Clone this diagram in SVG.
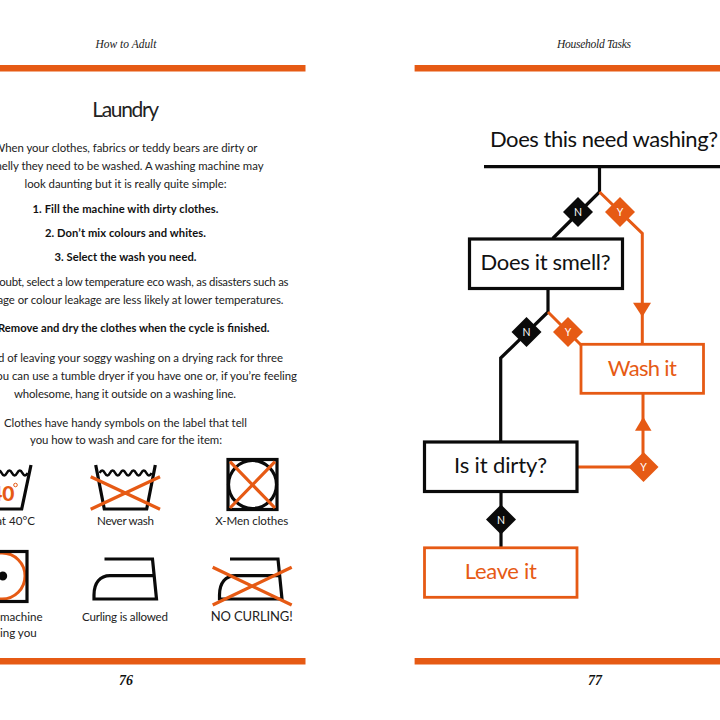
<svg xmlns="http://www.w3.org/2000/svg" width="720" height="720" viewBox="0 0 720 720">
<style>
text{font-family:"Lato","Noto Sans",sans-serif;fill:#222;text-anchor:middle}
.b{font-size:11.4px}
.bb{font-size:11.2px;font-weight:700;fill:#111}
.cap{font-size:11.6px}
.end{text-anchor:end}
.hd{font-family:"Liberation Serif",serif;font-style:italic;font-size:11.5px}
.pn{font-family:"Liberation Serif",serif;font-style:italic;font-weight:700;font-size:14px;fill:#111}
.t{font-size:22px;fill:#111}
.to{font-size:22px;fill:#e65a14}
.dl{font-size:10.5px;fill:#fff}
.bar{fill:#e65a14}
.k{fill:none;stroke:#0a0a0a;stroke-width:3.2}
.w{fill:none;stroke:#0a0a0a;stroke-width:2.6}
.o{fill:none;stroke:#e65a14;stroke-width:3}
.ob{fill:#fff;stroke:#e65a14;stroke-width:2.8}
.kb{fill:#fff;stroke:#0a0a0a;stroke-width:3.2}
.x{fill:none;stroke:#e65a14;stroke-width:3.2}
</style>
<rect width="720" height="720" fill="#fff"/>
<g id="page-furniture">
<rect class="bar" x="0" y="65" width="305.5" height="6.5"/>
<rect class="bar" x="414.6" y="65" width="305.4" height="6.5"/>
<rect class="bar" x="0" y="658" width="305.5" height="6.5"/>
<rect class="bar" x="414.6" y="658" width="305.4" height="6.5"/>
<text class="hd" x="126" y="48.3" textLength="61">How to Adult</text>
<text class="hd" x="594" y="48.3" textLength="74">Household Tasks</text>
<text class="pn" x="126" y="685">76</text>
<text class="pn" x="595" y="685">77</text>
</g>
<g id="laundry-text">
<text x="125.7" y="117" font-size="21" font-weight="400" textLength="67">Laundry</text>
<text class="b" x="125.5" y="152" textLength="264">When your clothes, fabrics or teddy bears are dirty or</text>
<text class="b" x="125.5" y="170" textLength="276">smelly they need to be washed. A washing machine may</text>
<text class="b" x="125.5" y="188" textLength="202">look daunting but it is really quite simple:</text>
<text class="bb" x="125.5" y="213" textLength="186">1. Fill the machine with dirty clothes.</text>
<text class="bb" x="125.5" y="237" textLength="161">2. Don’t mix colours and whites.</text>
<text class="bb" x="125.5" y="261" textLength="142">3. Select the wash you need.</text>
<text class="b" x="135" y="285.7" textLength="307">In doubt, select a low temperature eco wash, as disasters such as</text>
<text class="b" x="125.5" y="304" textLength="316">shrinkage or colour leakage are less likely at lower temperatures.</text>
<text class="bb" x="127.75" y="332.3" textLength="283.5">4. Remove and dry the clothes when the cycle is finished.</text>
<text class="b" x="125.5" y="361.7" textLength="315">Instead of leaving your soggy washing on a drying rack for three</text>
<text class="b" x="125.5" y="380" textLength="343">weeks, you can use a tumble dryer if you have one or, if you’re feeling</text>
<text class="b" x="125" y="397.7" textLength="222">wholesome, hang it outside on a washing line.</text>
<text class="b" x="125.5" y="426.7" textLength="243">Clothes have handy symbols on the label that tell</text>
<text class="b" x="126" y="444.3" textLength="192">you how to wash and care for the item:</text>
</g>
<g id="symbol-wash-40">
<path class="k" d="M31 465 L21.7 509 H-20"/>
<path class="w" d="M-24.400 473 q2.600 -5 5.200 0 t5.200 0 t5.200 0 t5.200 0 t5.200 0 t5.200 0 t5.200 0 t5.200 0 t5.200 0 t5.200 0"/>
<text x="14.5" y="501" font-size="21" font-weight="900" style="fill:#e65a14;text-anchor:end">40</text>
<circle cx="15.5" cy="485" r="1.8" fill="none" stroke="#e65a14" stroke-width="1"/>
<text class="cap end" x="35" y="525">at 40°C</text>
</g>
<g id="symbol-never-wash">
<path class="k" d="M95.7 465 L104.3 509 H146.7 L155.3 465"/>
<path class="w" d="M99.600 473 q2.600 -5 5.200 0 t5.200 0 t5.200 0 t5.200 0 t5.200 0 t5.200 0 t5.200 0 t5.200 0 t5.200 0 t5.200 0"/>
<path class="x" d="M90.7 476.7 L160 509.3 M90.7 509.3 L160 476.7"/>
<text class="cap" x="125.5" y="525" textLength="57">Never wash</text>
</g>
<g id="symbol-x-men">
<rect class="k" x="228" y="459.5" width="49" height="50"/>
<circle class="k" cx="252.5" cy="484.5" r="24"/>
<path class="x" d="M230 461.7 L275 508 M275 461.7 L230 508"/>
<text class="cap" x="251.7" y="525" textLength="73">X-Men clothes</text>
</g>
<g id="symbol-machine">
<circle class="o" cx="2" cy="576" r="23"/>
<rect class="k" x="-23" y="551.5" width="50" height="50"/>
<circle cx="2.7" cy="576" r="4.5" fill="#0a0a0a"/>
<text class="cap end" x="42.7" y="621">machine</text>
<text class="cap end" x="36.7" y="637">washing you</text>
</g>
<g id="symbol-curling">
<path class="k" d="M104.5 559 H152.5 L156.5 599 H94 V595 C94 583 100 575.7 110 575.7 H154"/>
<text class="cap" x="125" y="621" textLength="86">Curling is allowed</text>
</g>
<g id="symbol-no-curling">
<path class="k" d="M230 559 H278 L282 599 H219.5 V595 C219.5 583 225.5 575.7 235.5 575.7 H279.5"/>
<path class="x" d="M212.7 567.3 L291.7 605 M212.7 605 L291.7 567.3"/>
<text x="251.7" y="621" font-size="13" textLength="82">NO CURLING!</text>
</g>
<g id="connectors">
<path class="k" d="M484 166.7 H720"/>
<path class="k" d="M599.5 166.7 V192 L552.7 238.5"/>
<path class="o" d="M599.5 192 L642.3 233.5 V344"/>
<polygon points="633,302.7 651,302.7 642.3,317" fill="#e65a14"/>
<path class="k" d="M548 289 V312 L500.7 358 V442"/>
<path class="o" d="M548 312 L581 345"/>
<path class="o" d="M643 394 V467 M578 467 H643"/>
<polygon points="635,430.7 651.5,430.7 643.2,416.7" fill="#e65a14"/>
<path class="k" d="M501 491 V548"/>
</g>
<g id="node-title"><text class="t" x="604" y="147" textLength="228">Does this need washing?</text></g>
<g id="node-smell"><rect class="kb" x="469.5" y="239" width="153" height="49.5"/><text class="t" x="545.5" y="270" textLength="130">Does it smell?</text></g>
<g id="node-wash"><rect class="ob" x="581" y="344.3" width="122.5" height="49"/><text class="to" x="642.3" y="376" textLength="69">Wash it</text></g>
<g id="node-dirty"><rect class="kb" x="424.5" y="442" width="152.5" height="49.5"/><text class="t" x="500.5" y="473" textLength="93">Is it dirty?</text></g>
<g id="node-leave"><rect class="ob" x="424.5" y="547.8" width="152.5" height="49.5"/><text class="to" x="500.8" y="579.3" textLength="72">Leave it</text></g>
<g id="decision-n1"><polygon points="578,197 593,212 578,227 563,212" fill="#0a0a0a"/><text class="dl" x="578" y="216">N</text></g>
<g id="decision-y1"><polygon points="620,197 635,212 620,227 605,212" fill="#e65a14"/><text class="dl" x="620" y="216">Y</text></g>
<g id="decision-n2"><polygon points="526.5,317 541.5,332 526.5,347 511.5,332" fill="#0a0a0a"/><text class="dl" x="526.5" y="336">N</text></g>
<g id="decision-y2"><polygon points="568,317 583,332 568,347 553,332" fill="#e65a14"/><text class="dl" x="568" y="336">Y</text></g>
<g id="decision-y3"><polygon points="643.5,452 658.5,467 643.5,482 628.5,467" fill="#e65a14"/><text class="dl" x="643.5" y="471">Y</text></g>
<g id="decision-n3"><polygon points="501,504.5 516,519.5 501,534.5 486,519.5" fill="#0a0a0a"/><text class="dl" x="501" y="523.5">N</text></g>
</svg>
